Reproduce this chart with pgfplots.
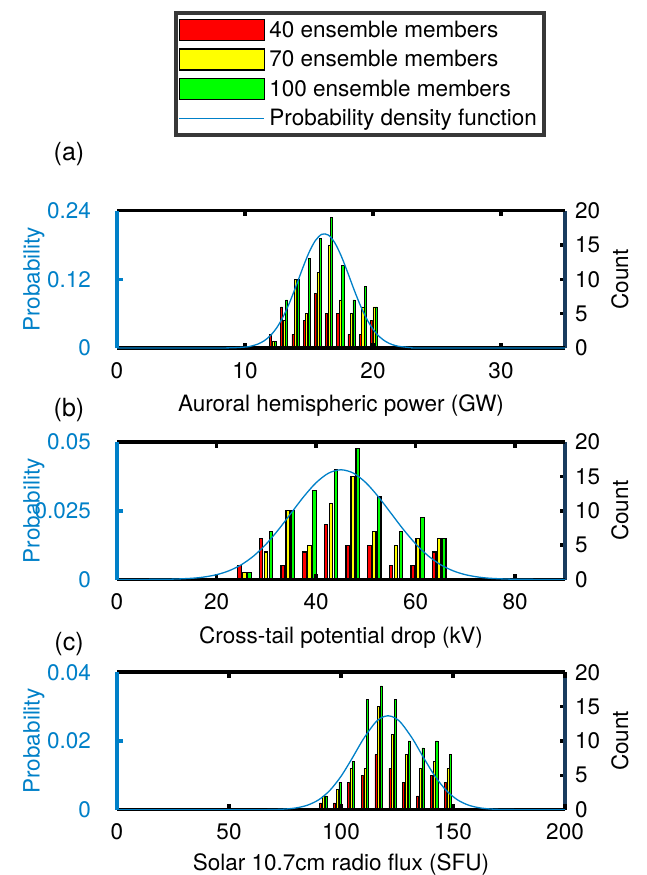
\documentclass[border=0pt]{standalone}
\usepackage{fontspec}
\setmainfont{TeX Gyre Heros}
\usepackage{pgfplots}
\usepackage{pgfplotstable}
\pgfplotsset{compat=1.18}
\definecolor{mblue}{RGB}{0,128,200}
\definecolor{rblue}{RGB}{25,60,95}
\definecolor{bred}{RGB}{255,0,0}
\definecolor{byel}{RGB}{255,255,0}
\definecolor{bgrn}{RGB}{0,255,0}
\newcommand{\fnt}{\fontsize{22.5}{26}\selectfont}

\pgfplotstableread{
x r y g
12.18 2 1 1
13.06 6 4 7
13.93 2 10 10
14.81 4 5 13
15.69 8 11 16
16.57 5 15 19
17.44 5 7 12
18.32 2 5 7
19.20 2 6 9
20.07 4 6 6
}\tabA
\pgfplotstableread{
x r y g
25.60 2 1 1
29.95 6 4 7
34.30 2 10 10
38.65 4 5 13
43.00 8 11 16
47.35 5 15 19
51.70 5 7 12
56.05 2 5 7
60.40 2 6 9
64.75 4 6 6
}\tabB
\pgfplotstableread{
x r y g
92.10 1 2 2
98.28 1 3 4
104.46 4 6 7
110.64 5 6 16
116.82 8 15 18
123.00 6 11 16
129.18 4 8 10
135.36 2 6 9
141.54 5 7 10
147.72 4 6 8
}\tabC

\pgfplotsset{
  panel/.style={
    scale only axis, width=448pt, height=137.5pt, anchor=south west,
    tick align=inside, major tick length=5.5pt,
    /pgf/number format/assume math mode=true,
    tick label style={font=\fnt},
    label style={font=\fnt},
  },
  leftax/.style={
    panel,
    axis x line=box, axis y line*=left,
    x axis line style={line width=3.5pt, black, -},
    y axis line style={line width=4.5pt, mblue, -},
    x tick style={line width=3.5pt, black},
    y tick style={line width=3.5pt, mblue},
    xticklabel style={inner sep=0pt, anchor=north, yshift=-14pt},
    yticklabel style={inner sep=0pt, anchor=east, xshift=-26pt, text=mblue},
    every axis y label/.style={at={(axis description cs:-0.1853,0.5)}, rotate=90, anchor=center, font=\fnt, text=mblue},
    every axis x label/.style={at={(axis description cs:0.5,-0.42)}, anchor=center, font=\fnt},
    ymin=0, scaled y ticks=false, scaled x ticks=false,
  },
  rightax/.style={
    panel,
    axis x line=none, axis y line*=right,
    y axis line style={line width=3.5pt, rblue, -},
    y tick style={line width=3.5pt, black},
    ymin=0, ymax=20, ytick={0,5,10,15,20}, yticklabels={0,5,10,15,20},
    yticklabel style={inner sep=0pt, anchor=west, xshift=10pt},
    every axis y label/.style={at={(axis description cs:1.1228,0.5)}, rotate=90, anchor=center, font=\fnt},
  },
  barleg/.style={legend image code/.code={\draw[##1, line width=1.2pt] (0pt,-10.5pt) rectangle (85pt,10.5pt);}},
  pdfleg/.style={legend image code/.code={\draw[mblue, line width=1.3pt] (0pt,0pt) -- (85pt,0pt);}},
  redbar/.style={ybar, fill=bred, draw=black, barleg},
  yelbar/.style={ybar, fill=byel, draw=black, barleg},
  grnbar/.style={ybar, fill=bgrn, draw=black, barleg},
  pdfline/.style={mblue, line width=1.3pt, smooth, no markers},
}

\begin{document}
\begin{tikzpicture}
\path[use as bounding box] (0pt,0pt) rectangle (647pt,-875pt);

% ---------------- (a)
\begin{axis}[rightax, at={(117pt,-348pt)}, xmin=0, xmax=35, ylabel={Count},
  legend style={at={(axis description cs:0.5424,2.452)}, anchor=north, draw=black!78, line width=4pt, fill=white, font=\fnt, row sep=7.3pt, inner xsep=3pt, inner ysep=6pt, nodes={inner ysep=2pt, inner xsep=4.5pt}},
  legend cell align=left]
\addplot[redbar, bar width=0.16, bar shift=-0.195, line width=0.5pt] table[x=x,y=r] {\tabA};
\addlegendentry{40 ensemble members}
\addplot[yelbar, bar width=0.16, bar shift=0, line width=0.5pt] table[x=x,y=y] {\tabA};
\addlegendentry{70 ensemble members}
\addplot[grnbar, bar width=0.16, bar shift=0.195, line width=0.5pt] table[x=x,y=g] {\tabA};
\addlegendentry{100 ensemble members}
\addlegendimage{pdfline, pdfleg}
\addlegendentry{Probability density function}
\end{axis}
\begin{axis}[leftax, at={(117pt,-348pt)}, xmin=0, xmax=35, ymax=0.24,
  ytick={0,0.12,0.24}, yticklabels={0,0.12,0.24},
  xtick={0,10,20,30}, xticklabels={0,10,20,30},
  ylabel={Probability}, xlabel={Auroral hemispheric power (GW)}]
\addplot[pdfline] coordinates {(0,0) (8,0.00004) (10,0.00163) (10.5,0.00344) (11,0.00679) (11.5,0.0126) (12,0.0220) (12.5,0.0360) (13,0.0555) (13.5,0.0802) (14,0.1089) (14.5,0.139) (15,0.1667) (15.5,0.1876) (16,0.1985) (16.5,0.1973) (17,0.1842) (17.5,0.1615) (18,0.1331) (18.5,0.1030) (19,0.0749) (19.5,0.0512) (20,0.0328) (20.5,0.0198) (21,0.0112) (21.5,0.00596) (22,0.00298) (23,0.00062) (24,0.0001) (35,0)};
\end{axis}
\node[font=\fontsize{25}{30}\selectfont] at (69pt,-154pt) {(a)};

% ---------------- (b)
\begin{axis}[rightax, at={(117pt,-579.5pt)}, xmin=0, xmax=90, ylabel={Count}]
\addplot[redbar, bar width=0.7, bar shift=-1.0, line width=1.2pt] table[x=x,y=r] {\tabB};
\addplot[yelbar, bar width=0.7, bar shift=0, line width=1.2pt] table[x=x,y=y] {\tabB};
\addplot[grnbar, bar width=0.7, bar shift=1.0, line width=1.2pt] table[x=x,y=g] {\tabB};
\end{axis}
\begin{axis}[leftax, at={(117pt,-579.5pt)}, xmin=0, xmax=90, ymax=0.05,
  ytick={0,0.025,0.05}, yticklabels={0,0.025,0.05},
  xtick={0,20,40,60,80}, xticklabels={0,20,40,60,80},
  ylabel={Probability}, xlabel={Cross-tail potential drop (kV)}]
\addplot[pdfline] coordinates {(0,0) (10,0.00009) (15,0.00044) (17.5,0.00091) (20,0.00175) (22.5,0.00318) (25,0.0054) (27.5,0.00863) (30,0.01296) (32.5,0.01827) (35,0.0242) (37.5,0.0301) (40,0.0352) (42.5,0.03867) (45,0.0399) (47.5,0.03867) (50,0.0352) (52.5,0.0301) (55,0.0242) (57.5,0.01827) (60,0.01296) (62.5,0.00863) (65,0.0054) (67.5,0.00318) (70,0.00175) (72.5,0.00091) (75,0.00044) (80,0.00009) (90,0)};
\end{axis}
\node[font=\fontsize{25}{30}\selectfont] at (69pt,-410pt) {(b)};

% ---------------- (c)
\begin{axis}[rightax, at={(117pt,-809.7pt)}, xmin=0, xmax=200, ylabel={Count}]
\addplot[redbar, bar width=0.9, bar shift=-1.2, line width=0.5pt] table[x=x,y=r] {\tabC};
\addplot[yelbar, bar width=0.9, bar shift=0, line width=0.5pt] table[x=x,y=y] {\tabC};
\addplot[grnbar, bar width=0.9, bar shift=1.2, line width=0.5pt] table[x=x,y=g] {\tabC};
\end{axis}
\begin{axis}[leftax, at={(117pt,-809.7pt)}, xmin=0, xmax=200, ymax=0.04,
  ytick={0,0.02,0.04}, yticklabels={0,0.02,0.04},
  xtick={0,50,100,150,200}, xticklabels={0,50,100,150,200},
  ylabel={Probability}, xlabel={Solar 10.7cm radio flux (SFU)},
  every axis x label/.style={at={(axis description cs:0.5,-0.395)}, anchor=center, font=\fnt}]
\addplot[pdfline] coordinates {(0,0) (60,0) (70,0.00006) (75,0.00019) (80,0.00053) (85,0.00131) (90,0.00287) (95,0.0056) (100,0.00971) (105,0.01499) (110,0.02058) (115,0.02512) (118,0.02676) (121,0.02733) (124,0.02676) (127,0.02512) (132,0.02058) (137,0.01499) (142,0.00971) (147,0.0056) (152,0.00287) (157,0.00131) (162,0.00053) (167,0.00019) (172,0.00006) (182,0) (200,0)};
\end{axis}
\node[font=\fontsize{25}{30}\selectfont] at (69pt,-644pt) {(c)};
\end{tikzpicture}
\end{document}
